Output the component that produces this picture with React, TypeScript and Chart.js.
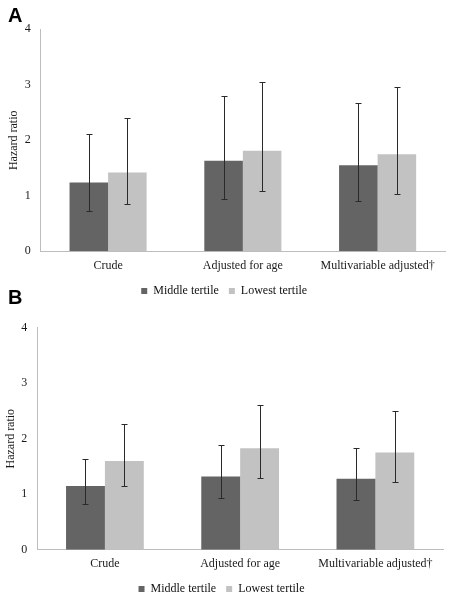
import React, { useEffect, useRef } from "react";
import { Chart, registerables } from "chart.js";

Chart.register(...registerables);

// ---- data ----
const categories = ["Crude", "Adjusted for age", "Multivariable adjusted\u2020"];
const seriesNames = ["Middle tertile", "Lowest tertile"];
const yTickMin = 0;
const yTickMax = 4;
const yTickStep = 1;

// Panel A
const aMiddle = [1.24, 1.63, 1.55];
const aMiddleLo = [0.73, 0.95, 0.9];
const aMiddleHi = [2.12, 2.8, 2.67];
const aLowest = [1.42, 1.81, 1.75];
const aLowestLo = [0.86, 1.09, 1.04];
const aLowestHi = [2.4, 3.05, 2.96];

// Panel B
const bMiddle = [1.15, 1.32, 1.28];
const bMiddleLo = [0.82, 0.94, 0.89];
const bMiddleHi = [1.64, 1.88, 1.84];
const bLowest = [1.6, 1.83, 1.75];
const bLowestLo = [1.15, 1.3, 1.22];
const bLowestHi = [2.26, 2.6, 2.5];

const COLORS = ["#646464", "#c2c2c2"];
const SERIF = "'Liberation Serif', 'Times New Roman', serif";
const CANVAS_W = 452;
const CANVAS_H = 310;
const LEGEND_PAD = 10;
const LEGEND_H = 12 + 2 * LEGEND_PAD;
const PAD_BOTTOM = 3;

const errorBarPlugin = {
  id: "errorBars",
  afterDatasetsDraw(chart: any, _args: any, opts: any) {
    const { ctx } = chart;
    const yScale = chart.scales.y;
    const lo: number[][] = opts.lo || [];
    const hi: number[][] = opts.hi || [];
    ctx.save();
    ctx.strokeStyle = "#2a2a2a";
    ctx.lineWidth = 1;
    chart.data.datasets.forEach((_ds: any, i: number) => {
      const meta = chart.getDatasetMeta(i);
      meta.data.forEach((bar: any, j: number) => {
        const x = Math.round(bar.x) + 0.5;
        const yl = Math.round(yScale.getPixelForValue(lo[i][j])) + 0.5;
        const yh = Math.round(yScale.getPixelForValue(hi[i][j])) + 0.5;
        ctx.beginPath();
        ctx.moveTo(x, yh);
        ctx.lineTo(x, yl);
        ctx.moveTo(x - 3, yh);
        ctx.lineTo(x + 3, yh);
        ctx.moveTo(x - 3, yl);
        ctx.lineTo(x + 3, yl);
        ctx.stroke();
      });
    });
    ctx.restore();
  },
};

type PanelProps = {
  top: number;
  middle: number[];
  middleLo: number[];
  middleHi: number[];
  lowest: number[];
  lowestLo: number[];
  lowestHi: number[];
  padLeft: number;
  chartLeft: number;
  chartRight: number;
  chartTop: number;
  chartBottom: number;
  catPct: number;
  titlePadTop: number;
};

function Panel(p: PanelProps) {
  const ref = useRef<HTMLCanvasElement | null>(null);
  useEffect(() => {
    if (!ref.current) return;
    const xHeight = CANVAS_H - PAD_BOTTOM - LEGEND_H - p.chartBottom;
    const yWidth = p.chartLeft - p.padLeft;
    const chart = new Chart(ref.current, {
      type: "bar",
      data: {
        labels: categories,
        datasets: [
          {
            label: seriesNames[0],
            data: p.middle,
            backgroundColor: COLORS[0],
            borderWidth: 0,
            categoryPercentage: p.catPct,
            barPercentage: 1,
          },
          {
            label: seriesNames[1],
            data: p.lowest,
            backgroundColor: COLORS[1],
            borderWidth: 0,
            categoryPercentage: p.catPct,
            barPercentage: 1,
          },
        ],
      },
      options: {
        responsive: false,
        animation: false,
        devicePixelRatio: 1,
        events: [],
        layout: {
          padding: {
            left: p.padLeft,
            right: CANVAS_W - p.chartRight,
            top: p.chartTop,
            bottom: PAD_BOTTOM,
          },
        },
        plugins: {
          tooltip: { enabled: false },
          legend: {
            display: true,
            position: "bottom",
            labels: {
              boxWidth: 6,
              boxHeight: 6,
              padding: LEGEND_PAD,
              color: "#111",
              font: { family: SERIF, size: 12 },
            },
          },
          errorBars: {
            lo: [p.middleLo, p.lowestLo],
            hi: [p.middleHi, p.lowestHi],
          },
        } as any,
        scales: {
          x: {
            grid: { display: false, drawTicks: false },
            border: { display: true, color: "#bdbdbd", width: 1 },
            ticks: {
              color: "#1a1a1a",
              padding: 7,
              maxRotation: 0,
              autoSkip: false,
              font: { family: SERIF, size: 12 },
            },
            afterFit(scale: any) {
              scale.height = xHeight;
            },
          },
          y: {
            min: yTickMin,
            max: yTickMax,
            grid: { display: false, drawTicks: false },
            border: { display: true, color: "#bdbdbd", width: 1 },
            ticks: {
              stepSize: yTickStep,
              color: "#1a1a1a",
              padding: 10,
              font: { family: SERIF, size: 12 },
            },
            title: {
              display: true,
              text: "Hazard ratio",
              color: "#1a1a1a",
              padding: { top: p.titlePadTop, bottom: 0 },
              font: { family: SERIF, size: 12 },
            },
            afterFit(scale: any) {
              scale.width = yWidth;
            },
          },
        },
      },
      plugins: [errorBarPlugin],
    });
    return () => chart.destroy();
  }, []);
  return (
    <canvas
      ref={ref}
      width={CANVAS_W}
      height={CANVAS_H}
      style={{
        position: "absolute",
        left: 0,
        top: p.top,
        width: CANVAS_W,
        height: CANVAS_H,
        display: "block",
      }}
    />
  );
}

const letterStyle: React.CSSProperties = {
  position: "absolute",
  left: 8,
  fontFamily: "'Liberation Sans', Arial, sans-serif",
  fontWeight: "bold",
  fontSize: 20,
  lineHeight: "20px",
  color: "#000",
};

export default function App() {
  return (
    <div
      style={{
        position: "absolute",
        left: 0,
        top: 0,
        width: CANVAS_W,
        height: 600,
        overflow: "hidden",
        background: "#fff",
      }}
    >
      <Panel
        top={0}
        middle={aMiddle}
        middleLo={aMiddleLo}
        middleHi={aMiddleHi}
        lowest={aLowest}
        lowestLo={aLowestLo}
        lowestHi={aLowestHi}
        padLeft={3.4}
        chartLeft={40.7}
        chartRight={445}
        chartTop={29.3}
        chartBottom={251.3}
        catPct={0.572}
        titlePadTop={3.4}
      />
      <Panel
        top={298}
        middle={bMiddle}
        middleLo={bMiddleLo}
        middleHi={bMiddleHi}
        lowest={bLowest}
        lowestLo={bLowestLo}
        lowestHi={bLowestHi}
        padLeft={0}
        chartLeft={37.3}
        chartRight={443}
        chartTop={29.7}
        chartBottom={251.7}
        catPct={0.575}
        titlePadTop={3.4}
      />
      <div style={{ ...letterStyle, top: 5.4 }}>A</div>
      <div style={{ ...letterStyle, top: 287.4 }}>B</div>
    </div>
  );
}
